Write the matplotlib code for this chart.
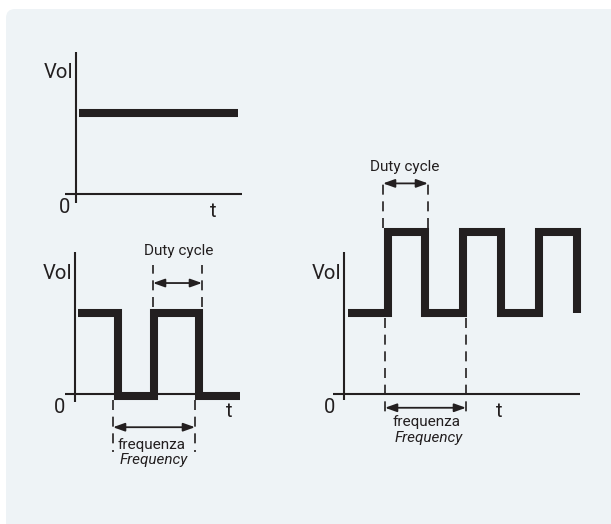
import matplotlib
matplotlib.use('Agg')
import matplotlib.pyplot as plt
from matplotlib.patches import FancyBboxPatch
from matplotlib.transforms import IdentityTransform

plt.rcParams['font.family'] = ['Roboto', 'DejaVu Sans']

W, H = 611, 524
S = 81  # pixels per level unit
INK = '#231f20'
BG = '#eef3f6'

# constant signal (top)
dc_time = [3, 162]
dc_level = [1, 1]

# pwm signal (bottom left)
pwm_time = [3, 42.5, 79, 124, 165]
pwm_level = [1, -0.025, 1, -0.025, -0.025]
pwm_duty = [78, 127]
pwm_period = [38, 120]

# square wave with offset (bottom right)
sq_time = [4, 44, 81, 119, 157, 195, 233]
sq_level = [1, 2, 1, 2, 1, 2, 1]
sq_duty = [39, 84]
sq_period = [41, 122]

fig = plt.figure(figsize=(W / 100, H / 100), dpi=100)
fig.patch.set_facecolor('white')
fig.add_artist(FancyBboxPatch((6, -100), 700, H - 9 + 100,
                              boxstyle='round,pad=0,rounding_size=9',
                              transform=IdentityTransform(), fc=BG, ec='none',
                              zorder=-10))


def panel(ox, oy, xr, yr):
    ax = fig.add_axes([(ox + xr[0]) / W, (H - oy + yr[0] * S) / H,
                       (xr[1] - xr[0]) / W, (yr[1] - yr[0]) * S / H])
    ax.set_xlim(xr)
    ax.set_ylim(yr)
    ax.axis('off')
    return ax


def axes_cross(ax, xaxis, yaxis, vx, zx, tx):
    ax.plot(xaxis, [0, 0], color=INK, lw=1.5, solid_capstyle='butt')
    ax.plot([0, 0], yaxis, color=INK, lw=1.5, solid_capstyle='butt')
    ax.text(-3, vx, 'VoI', fontsize=14.5, color=INK, ha='right', va='center')
    ax.text(zx, -0.17, '0', fontsize=14.5, color=INK, ha='center', va='center')
    ax.text(tx, -0.21, 't', fontsize=14.5, color=INK, ha='center', va='center')


def marker(ax, xs, y0, y1, ya):
    for x in xs:
        ax.plot([x, x], [y0, y1], color=INK, lw=1.2, dashes=(6, 4))
    ax.annotate('', xy=(xs[1], ya), xytext=(xs[0], ya),
                arrowprops=dict(arrowstyle='<|-|>,head_length=0.7,head_width=0.25',
                                color=INK, lw=1.3, shrinkA=0, shrinkB=0))


def freq_label(ax, x, y):
    ax.text(x, y, 'frequenza', fontsize=11, color=INK, ha='center', va='center')
    ax.text(x + 2, y - 0.19, 'Frequency', fontsize=11, color=INK,
            ha='center', va='center', style='italic')


# top: constant
ax1 = panel(76, 194, (-40, 180), (-0.5, 2))
axes_cross(ax1, [-11, 166], [-0.11, 1.75], 1.5, -11, 137)
ax1.plot(dc_time, dc_level, color=INK, lw=5.8, solid_capstyle='butt')

# bottom left: pwm
ax2 = panel(75, 394, (-40, 180), (-1.0, 2.0))
axes_cross(ax2, [-10, 165], [-0.1, 1.75], 1.49, -15, 154)
ax2.step(pwm_time, pwm_level, where='post', color=INK, lw=5.8,
         solid_joinstyle='miter', solid_capstyle='butt')
marker(ax2, pwm_duty, 1.07, 1.59, 1.37)
ax2.text(104, 1.77, 'Duty cycle', fontsize=11, color=INK, ha='center', va='center')
marker(ax2, pwm_period, -0.07, -0.72, -0.41)
freq_label(ax2, 77, -0.63)

# bottom right: offset square wave
ax3 = panel(344, 394, (-40, 250), (-1.0, 3.1))
axes_cross(ax3, [-11, 236], [-0.07, 1.75], 1.49, -14, 155)
ax3.step(sq_time, sq_level, where='post', color=INK, lw=5.8,
         solid_joinstyle='miter', solid_capstyle='butt')
marker(ax3, sq_duty, 2.05, 2.6, 2.6)
ax3.text(61, 2.8, 'Duty cycle', fontsize=11, color=INK, ha='center', va='center')
marker(ax3, sq_period, 0.94, -0.23, -0.17)
freq_label(ax3, 83, -0.35)

fig.savefig('out.png', dpi=100, facecolor=fig.get_facecolor())
